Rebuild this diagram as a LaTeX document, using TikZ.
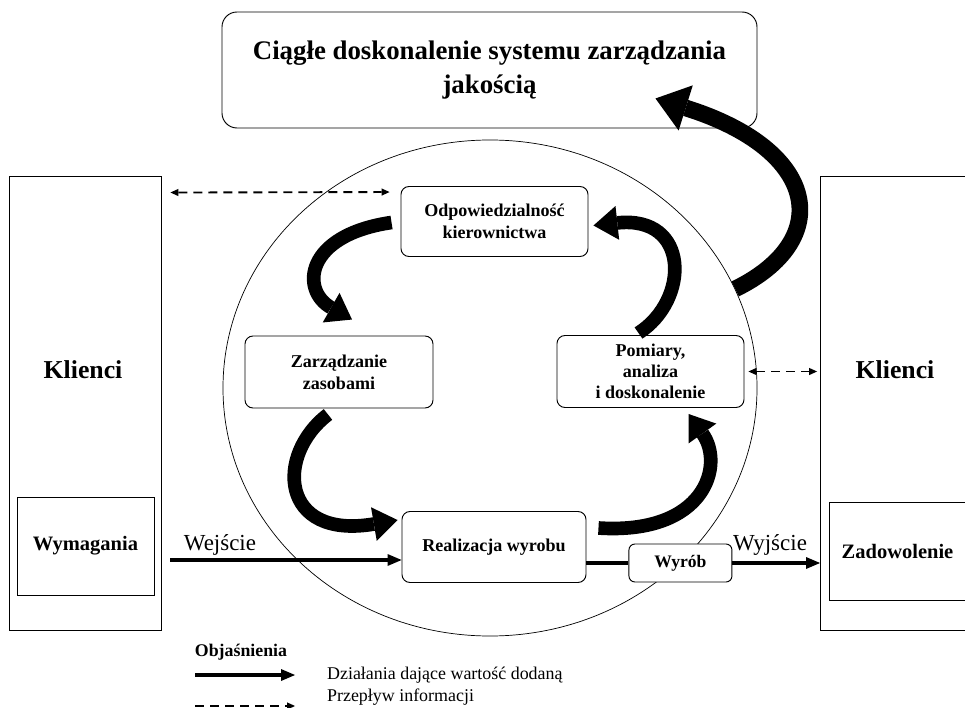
\documentclass[tikz,border=0pt]{standalone}
\usepackage{fontspec}
\setmainfont{Liberation Serif}
\usetikzlibrary{positioning,arrows.meta,shapes.geometric}

\begin{document}
\begin{tikzpicture}[
  x=0.3mm, y=-0.3mm,
  >={Triangle[length=0.24cm,width=0.22cm,line width=0pt]},
  proc/.style={rectangle,draw,line width=0.8pt,fill=white,rounded corners=0.24cm,align=center,inner sep=2pt,font=\fontsize{15.4}{19}\selectfont\bfseries},
  client/.style={rectangle,draw,line width=0.8pt,minimum width=4.56cm,minimum height=13.62cm},
  need/.style={rectangle,draw,line width=0.8pt,fill=white,minimum width=4.11cm,minimum height=2.94cm,font=\fontsize{17.5}{21}\selectfont\bfseries},
  curv/.style={line width=0.41cm,-{Triangle[length=0.72cm,width=1.02cm,line width=0pt]}},
  bigcurv/.style={line width=0.5cm,-{Triangle[length=0.95cm,width=1.42cm,line width=0pt]}},
  arrflow/.style={line width=0.12cm,-{Triangle[length=0.42cm,width=0.36cm,line width=0pt]}},
  arrinfo/.style={line width=1.6pt,dash pattern=on 0.27cm off 0.18cm,->},
  legtext/.style={font=\fontsize{15.3}{18}\selectfont},
]
\useasboundingbox (0,0) rectangle (965,708);
\clip (0,0) rectangle (965,708);

% Pierscien procesow
\node[ellipse,draw,line width=0.6pt,minimum width=16.02cm,minimum height=14.88cm,inner sep=0pt] (circ) at (490,388) {};

% Klienci po obu stronach
\node[client] (klL) at (85,403) {};
\node[client] (klR) at (896.5,403) {};
\node[font=\fontsize{22}{26}\selectfont\bfseries] (klLt) at (83,370) {Klienci};
\node[font=\fontsize{22}{26}\selectfont\bfseries] (klRt) at (895,370) {Klienci};
\node[need] (wym) at (85.5,546) {Wymagania};
\node[need] (zad) at (897.5,551) {Zadowolenie};

% Doskonalenie systemu
\node[proc,rounded corners=0.45cm,minimum width=16.05cm,minimum height=3.48cm,font=\fontsize{22.9}{29}\selectfont\bfseries] (top) at (489.5,70) {Ciągłe doskonalenie systemu zarządzania\\jakością};

% Procesy
\node[proc,minimum width=5.61cm,minimum height=2.1cm] (odp) at (494.5,221.5) {Odpowiedzialność\\kierownictwa};
\node[proc,minimum width=5.64cm,minimum height=2.16cm] (zarz) at (339,372) {Zarządzanie\\zasobami};
\node[proc,minimum width=5.61cm,minimum height=2.16cm,font=\fontsize{15.4}{18}\selectfont\bfseries] (pom) at (650.5,371.5) {Pomiary,\\analiza\\i doskonalenie};
\node[proc,minimum width=5.52cm,minimum height=2.13cm] (real) at (494,547) {Realizacja wyrobu};
\node[proc,right=1.26cm of real,yshift=-0.48cm,rounded corners=0.18cm,minimum width=3.09cm,minimum height=1.14cm,font=\fontsize{15}{18}\selectfont\bfseries] (wyrob) {Wyrób};

% Przeplyw informacji
\draw[arrinfo,<->] ([shift={(9,17)}]klL.north east) -- ([shift={(-11,6)}]odp.north west);
\draw[arrinfo,<->,shorten <=0.12cm,shorten >=0.09cm] (pom.east) -- (pom.east -| klR.west);

% Wejscie / wyjscie
\coordinate (inA) at (170,560);
\draw[arrflow] (inA) -- (inA -| real.west);
\draw[line width=0.12cm] (real.east |- wyrob.west) -- (wyrob.west);
\draw[arrflow] (wyrob.east) -- (wyrob.east -| klR.west);
\node[font=\fontsize{19.6}{23}\selectfont] (wej) at (220,545) {Wejście};
\node[font=\fontsize{19.6}{23}\selectfont] (wyj) at (770,545) {Wyjście};

% Cykl
\draw[curv] ([shift={(-9,1)}]odp.west) .. controls (305,235) and (300,290) .. ([shift={(13,-16)}]zarz.north);
\draw[curv] ([shift={(-11,6)}]zarz.south) .. controls (275,455) and (280,540) .. ([shift={(-4,-27)}]real.west);
\draw[curv] ([shift={(12,-19)}]real.east) .. controls (705,535) and (725,465) .. ([shift={(38,6)}]pom.south);
\draw[curv] ([shift={(-12,-2)}]pom.north) .. controls (690,300) and (690,215) .. ([shift={(5,4)}]odp.east);
\draw[bigcurv] (circ.22) .. controls (835,240) and (820,150) .. ([shift={(-102,-30)}]top.south east);

% Objasnienia
\node[font=\fontsize{15.2}{18}\selectfont\bfseries] (legt) at (241,652) {Objaśnienia};
\coordinate (l1a) at (195,675);
\coordinate (l1b) at (295,675);
\draw[arrflow] (l1a) -- (l1b);
\node[legtext,right=0.84cm of l1b] (l1t) {Działania dające wartość dodaną};
\coordinate (l2a) at (195,706);
\coordinate (l2b) at (295,706);
\draw[arrinfo] (l2a) -- (l2b);
\node[legtext,anchor=west] (l2t) at (323,697) {Przepływ informacji};

\end{tikzpicture}
\end{document}
